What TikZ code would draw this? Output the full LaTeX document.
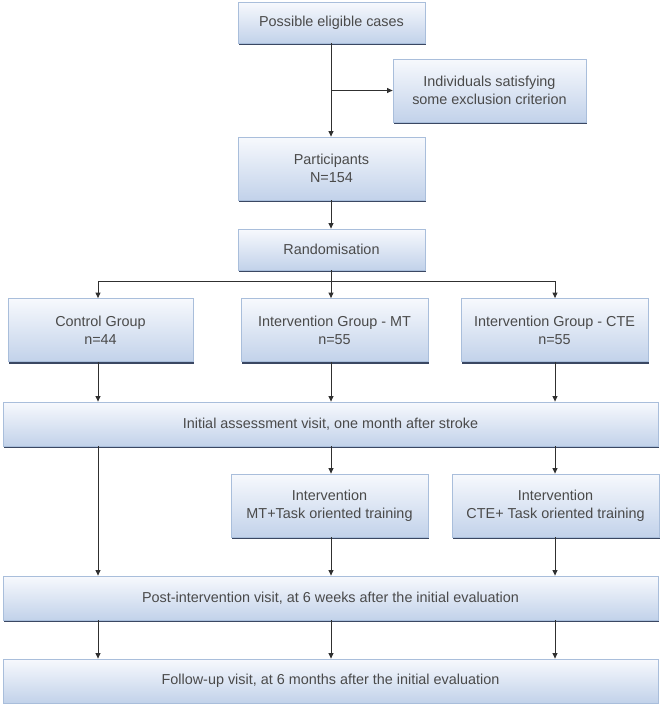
\documentclass[tikz,border=0pt]{standalone}
\usepackage{fontspec}
\setmainfont{Liberation Sans}
\usetikzlibrary{arrows.meta,shadows,calc}
\definecolor{boxtop}{HTML}{F7F9FD}
\definecolor{boxbot}{HTML}{C2D2EA}
\definecolor{boxline}{HTML}{A9BEDB}
\definecolor{shadowcol}{HTML}{3A4762}
\definecolor{txt}{HTML}{4A4A4A}
\definecolor{arr}{HTML}{303030}
\tikzset{
  fbox/.style={rectangle, draw=boxline, line width=0.8pt, top color=boxtop, bottom color=boxbot,
    inner sep=0pt, align=center, text=txt, font=\fontsize{14.4}{18}\selectfont,
    general shadow={shadow xshift=1.2pt, shadow yshift=-2.2pt, fill=shadowcol}},
  conn/.style={draw=arr, line width=1pt, -{Triangle[length=5.5pt,width=5pt]}},
  plain/.style={draw=arr, line width=1pt}
}
\begin{document}
\begin{tikzpicture}[x=1pt,y=-1pt]
\useasboundingbox (0,0) rectangle (661,704);
% nodes
\node[fbox, minimum width=187pt, minimum height=41pt] (elig) at (331.5,22.5) {Possible eligible cases};
\node[fbox, minimum width=193pt, minimum height=63pt] (excl) at (489.5,90.5) {Individuals satisfying\\some exclusion criterion};
\node[fbox, minimum width=187pt, minimum height=63pt] (part) at (331.5,168.5) {Participants\\N=154};
\node[fbox, minimum width=187pt, minimum height=41pt] (rand) at (331.5,249.5) {Randomisation};
\node[fbox, minimum width=185pt, minimum height=63pt] (ctrl) at (100.5,330) {Control Group\\n=44};
\node[fbox, minimum width=187pt, minimum height=63pt] (gmt) at (334.5,330) {Intervention Group - MT\\n=55};
\node[fbox, minimum width=187pt, minimum height=63pt] (gcte) at (554.5,330) {Intervention Group - CTE\\n=55};
\node[fbox, minimum width=655pt, minimum height=44pt] (init) at (330.5,424) {Initial assessment visit, one month after stroke};
\node[fbox, minimum width=197pt, minimum height=63pt] (imt) at (329.5,505.5) {Intervention\\MT+Task oriented training};
\node[fbox, minimum width=207pt, minimum height=63pt] (icte) at (555.5,505.5) {Intervention\\CTE+ Task oriented training};
\node[fbox, minimum width=655pt, minimum height=44pt] (post) at (330.5,598) {Post-intervention visit, at 6 weeks after the initial evaluation};
\node[fbox, minimum width=655pt, minimum height=44pt] (fol) at (330.5,681) {Follow-up visit, at 6 months after the initial evaluation};
% helper coordinates
\coordinate (br) at (331,90.5);
\coordinate (split) at (331,281);
\coordinate (cA) at (98,0);
\coordinate (cB) at (331,0);
\coordinate (cC) at (555,0);
% connectors
\draw[conn] (elig.south -| cB) -- (part.north -| cB);
\draw[conn] (br) -- (excl.west);
\draw[conn] (part.south -| cB) -- (rand.north -| cB);
\draw[plain] (rand.south -| cB) -- (split);
\draw[conn] (split) -| (gmt.north -| cB);
\draw[conn] (split) -| (ctrl.north -| cA);
\draw[conn] (split) -| (gcte.north -| cC);
\draw[conn] (ctrl.south -| cA) -- (init.north -| cA);
\draw[conn] (gmt.south -| cB) -- (init.north -| cB);
\draw[conn] (gcte.south -| cC) -- (init.north -| cC);
\draw[conn] (init.south -| cA) -- (post.north -| cA);
\draw[conn] (init.south -| cB) -- (imt.north -| cB);
\draw[conn] (init.south -| cC) -- (icte.north -| cC);
\draw[conn] (imt.south -| cB) -- (post.north -| cB);
\draw[conn] (icte.south -| cC) -- (post.north -| cC);
\draw[conn] (post.south -| cA) -- (fol.north -| cA);
\draw[conn] (post.south -| cB) -- (fol.north -| cB);
\draw[conn] (post.south -| cC) -- (fol.north -| cC);
\end{tikzpicture}
\end{document}
